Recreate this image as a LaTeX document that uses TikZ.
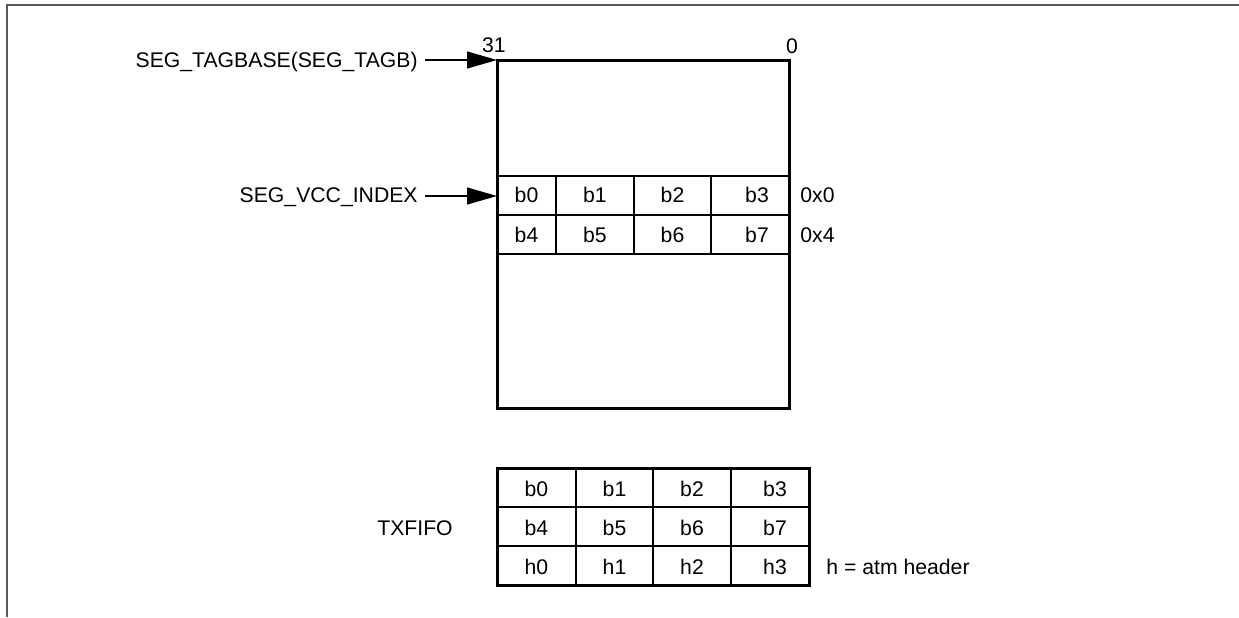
\documentclass[tikz,border=0pt]{standalone}
\usepackage{fontspec}
\setmainfont{Liberation Sans}
\usetikzlibrary{arrows.meta}
\begin{document}
\begin{tikzpicture}[x=0.5pt,y=-0.5pt,
  every node/.style={font=\fontsize{10.6pt}{12pt}\selectfont, inner sep=0pt},
  thickbox/.style={draw=black, line width=1.5pt},
  thinline/.style={draw=black, line width=0.75pt},
  frameline/.style={draw=black!65, line width=1pt},
  ptr/.style={draw=black, line width=0.6pt, -{Triangle[length=15pt,width=8.5pt]}},
  lbl/.style={anchor=east}]
\useasboundingbox (0,0) rectangle (1239,617);
% frame
\draw[frameline] (6.5,617) -- (6.5,5) -- (1239,5);
% main memory box
\coordinate (boxtl) at (497,60);
\coordinate (boxbr) at (789,408);
\draw[thinline] (497,176) -- (789,176);
\draw[thinline] (497,215) -- (789,215);
\draw[thinline] (497,254) -- (789,254);
\foreach \x in {556,634,711} \draw[thinline] (\x,176) -- (\x,254);
\draw[thickbox] (boxtl) rectangle (boxbr);
\node (n31) at (494,45) {31};
\node (n0) at (792,46) {0};
\node (m0) at (526.5,195) {b0};
\node (m1) at (595,195) {b1};
\node (m2) at (672.5,195) {b2};
\node (m3) at (757,195) {b3};
\node (m4) at (526.5,235) {b4};
\node (m5) at (595,235) {b5};
\node (m6) at (672.5,235) {b6};
\node (m7) at (757,235) {b7};
\node[anchor=west] (a0) at (800,195) {0x0};
\node[anchor=west] (a4) at (800,235) {0x4};
% pointers
\node[lbl] (tagbase) at (418,62) {SEG\_TAGBASE(SEG\_TAGB)};
\node[lbl] (vccidx) at (418,197) {SEG\_VCC\_INDEX};
\coordinate (tagstart) at (425,60);
\coordinate (vccstart) at (425,196);
\coordinate (vccend) at (497,196);
\draw[ptr] (tagstart) -- (boxtl);
\draw[ptr] (vccstart) -- (vccend);
% TXFIFO
\draw[thinline] (497,507) -- (809,507);
\draw[thinline] (497,546) -- (809,546);
\foreach \x in {576,653,731} \draw[thinline] (\x,468) -- (\x,585);
\draw[thickbox] (497,468) rectangle (809,585);
\node (f0) at (536.5,489) {b0};
\node (f1) at (614.5,489) {b1};
\node (f2) at (692,489) {b2};
\node (f3) at (775,489) {b3};
\node (f4) at (536.5,528) {b4};
\node (f5) at (614.5,528) {b5};
\node (f6) at (692,528) {b6};
\node (f7) at (775,528) {b7};
\node (h0) at (536.5,567) {h0};
\node (h1) at (614.5,567) {h1};
\node (h2) at (692,567) {h2};
\node (h3) at (775,567) {h3};
\node (txfifo) at (415,528) {TXFIFO};
\node[anchor=west] (hnote) at (826,567) {h = atm header};
\end{tikzpicture}
\end{document}
